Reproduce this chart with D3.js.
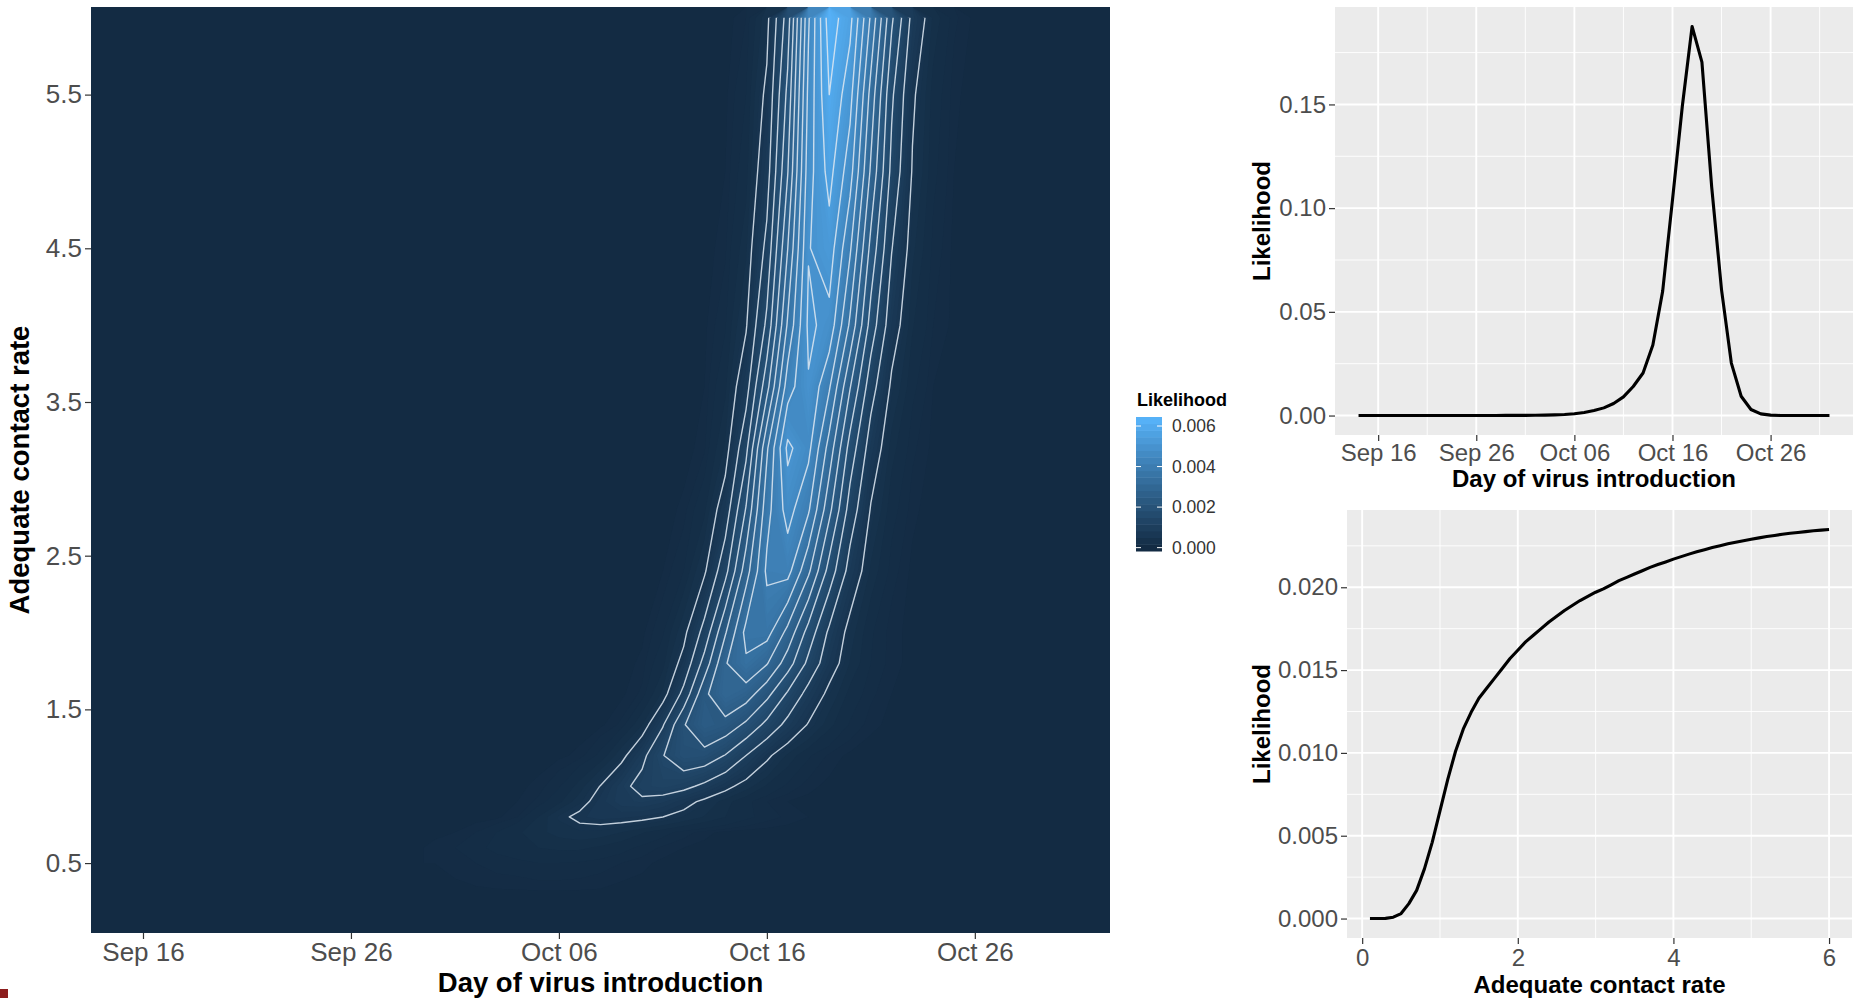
<!DOCTYPE html>
<html>
<head>
<meta charset="utf-8">
<script src="https://cdn.jsdelivr.net/npm/d3@7"></script>
<style>
  html, body { margin: 0; padding: 0; background: #fff; }
  svg { display: block; font-family: "Liberation Sans", Arial, Helvetica, sans-serif; }
</style>
</head>
<body>
<svg id="chart" width="1858" height="998"></svg>
<script>
// ---------- values ----------

// heat map: one column per day from gridStart, one row per contact rate
const gridStart = "2019-09-30";
const gridRates = [0.3, 0.5, 0.6, 0.7, 0.8, 0.9, 1.0, 1.2, 1.4, 1.6, 1.8, 2.0, 2.4, 2.8, 3.2, 3.6, 4.0, 4.5, 5.0, 5.5, 6.0];
// likelihood x 1e-5 (days Sep 30 .. Oct 27)
const gridRows = [
  [0,0,1,1,1,1,1,1,1,0,0,0,0,0,0,0,0,0,0,0,0,0,0,0,0,0,0,0],
  [2,4,5,7,8,10,10,9,7,5,3,1,1,0,0,0,0,0,0,0,0,0,0,0,0,0,0,0],
  [3,5,8,12,16,20,22,22,18,13,8,4,2,1,0,0,0,0,0,0,0,0,0,0,0,0,0,0],
  [1,2,5,10,18,27,34,38,36,30,21,13,7,3,1,0,0,0,0,0,0,0,0,0,0,0,0,0],
  [0,0,0,1,5,20,42,58,64,62,58,50,39,29,20,12,7,4,2,1,0,0,0,0,0,0,0,0],
  [0,0,0,0,2,6,17,37,65,87,92,82,63,42,24,12,5,2,1,0,0,0,0,0,0,0,0,0],
  [0,0,0,0,1,3,9,24,51,87,116,125,113,89,61,36,18,8,3,1,0,0,0,0,0,0,0,0],
  [0,0,0,0,0,0,1,3,12,38,87,148,187,182,148,100,57,27,11,4,1,0,0,0,0,0,0,0],
  [0,0,0,0,0,0,0,0,1,6,29,96,196,248,232,190,136,85,47,23,9,3,1,0,0,0,0,0],
  [0,0,0,0,0,0,0,0,0,1,6,33,114,238,300,275,215,143,82,40,16,6,2,0,0,0,0,0],
  [0,0,0,0,0,0,0,0,0,0,3,16,63,169,296,343,304,224,137,69,29,10,3,1,0,0,0,0],
  [0,0,0,0,0,0,0,0,0,0,1,9,39,117,245,365,368,285,180,90,36,11,3,1,0,0,0,0],
  [0,0,0,0,0,0,0,0,0,0,0,2,10,44,133,278,410,418,310,180,80,27,7,1,0,0,0,0],
  [0,0,0,0,0,0,0,0,0,0,0,0,3,17,72,204,382,470,407,264,128,47,13,3,0,0,0,0],
  [0,0,0,0,0,0,0,0,0,0,0,0,0,4,32,136,342,512,464,330,180,76,24,6,1,0,0,0],
  [0,0,0,0,0,0,0,0,0,0,0,0,0,2,17,79,232,426,496,406,253,120,43,12,2,0,0,0],
  [0,0,0,0,0,0,0,0,0,0,0,0,0,1,9,46,161,357,510,484,341,179,70,21,5,1,0,0],
  [0,0,0,0,0,0,0,0,0,0,0,0,0,0,4,27,113,299,497,528,407,235,102,33,8,1,0,0],
  [0,0,0,0,0,0,0,0,0,0,0,0,0,0,2,15,78,247,478,568,471,292,136,47,12,2,0,0],
  [0,0,0,0,0,0,0,0,0,0,0,0,0,0,1,10,58,213,463,600,518,332,159,56,15,3,0,0],
  [0,0,0,0,0,0,0,0,0,0,0,0,0,0,0,5,38,174,443,628,566,392,209,85,27,6,1,0]
];
const contourLevels = [0.0005, 0.001, 0.0015, 0.002, 0.0025, 0.003, 0.0035, 0.004, 0.0045, 0.005, 0.0055, 0.006];

// marginal over day of introduction, Sep 14 .. Nov 1
const dayMarginStart = "2019-09-14";
const dayMargin = [
  0,0,0,0,0,0,0,0,0,0,0,0,
  0.00002,0.00003,0.00004,0.00006,0.00008,
  0.0001,0.00015,0.0002,0.0003,0.0005,0.0009,0.0015,0.0024,0.0037,0.0058,
  0.009,0.014,0.0205,0.034,0.06,0.104,0.149,0.1876,0.1704,0.11,
  0.0606,0.0253,0.0093,0.0029,0.0008,0.0002,0.00005,0,0,0,0,0
];

// marginal over adequate contact rate, 0.1 .. 6.0 by 0.1
const rateMargin = [
  0,0,0.00001,0.00008,0.0003,0.0009,0.0017,0.003,0.0046,0.0065,
  0.0084,0.0101,0.01145,0.01245,0.0133,0.0139,0.0145,0.0151,0.0157,0.0162,
  0.0167,0.0171,0.0175,0.0179,0.01825,0.0186,0.0189,0.0192,0.01945,0.0197,
  0.0199,0.02015,0.0204,0.0206,0.0208,0.021,0.0212,0.02137,0.02153,0.0217,
  0.02185,0.022,0.02214,0.02227,0.0224,0.02251,0.02262,0.02272,0.02281,0.0229,
  0.02298,0.02306,0.02313,0.0232,0.02326,0.02331,0.02336,0.02341,0.02345,0.02349
];

const dayTicks = ["2019-09-16", "2019-09-26", "2019-10-06", "2019-10-16", "2019-10-26"];
const mainRateTicks = [0.5, 1.5, 2.5, 3.5, 4.5, 5.5];
const legendTicks = [0, 0.002, 0.004, 0.006];
const dayLikTicks = [0, 0.05, 0.10, 0.15];
const rateTicks = [0, 2, 4, 6];
const rateLikTicks = [0, 0.005, 0.010, 0.015, 0.020];

// ---------- helpers ----------
const parse = d3.utcParse("%Y-%m-%d");
const fmtDay = d3.utcFormat("%b %d");
const svg = d3.select("#chart");
const tickGrey = "#4D4D4D";
const expand = ([a, b], f = 0.05) => [+a - (b - a) * f, +b + (b - a) * f];

/** style a d3 axis the ggplot way */
const styleAxis = (g, size) => {
    g.select(".domain").remove();
    g.selectAll(".tick line").attr("stroke", "#333").attr("stroke-width", 1.2);
    g.selectAll(".tick text")
        .attr("fill", tickGrey)
        .style("font-size", size + "px")
        .style("font-family", "'Liberation Sans', Arial, sans-serif");
};

const title = (x, y, text, size, rotate) => svg.append("text")
    .attr("transform", rotate ? `translate(${x},${y}) rotate(-90)` : `translate(${x},${y})`)
    .attr("text-anchor", "middle")
    .style("font-weight", "bold")
    .style("font-size", size + "px")
    .attr("fill", "#000")
    .text(text);

const defs = svg.append("defs");

// ---------- main heat map ----------
const M = {left: 91, right: 1110, top: 7, bottom: 933};
const days = dayMargin.map((_, i) => d3.utcDay.offset(parse(dayMarginStart), i));
const xMain = d3.scaleUtc()
    .domain([d3.utcHour.offset(days[0], -12), d3.utcHour.offset(days[days.length - 1], 12)])
    .range([M.left, M.right]);
const yMain = d3.scaleLinear().domain([0.045, 6.07]).range([M.bottom, M.top]);

const grid = gridRows.map(r => r.map(v => v * 1e-5));
const nCols = grid[0].length, nRows = grid.length;
const flat = grid.flat();
const maxL = d3.max(flat);
const color = d3.scaleLinear().domain([0, maxL])
    .range(["#132B43", "#56B1F7"]).interpolate(d3.interpolateLab);

// grid space -> data space (cell centres sit at i + 0.5)
const day0 = parse(gridStart);
const gxPix = d3.scaleLinear().domain([0, nCols])
    .range([xMain(d3.utcHour.offset(day0, -12)), xMain(d3.utcHour.offset(day0, 24 * nCols - 12))]);
const gyRate = d3.scaleLinear()
    .domain([0, ...d3.range(nRows).map(i => i + 0.5), nRows])
    .range([yMain.domain()[0], ...gridRates, yMain.domain()[1]]);
const path = d3.geoPath(d3.geoTransform({
    point(px, py) { this.stream.point(gxPix(px), yMain(gyRate(py))); }
}));

defs.append("clipPath").attr("id", "mainClip").append("rect")
    .attr("x", M.left).attr("y", M.top)
    .attr("width", M.right - M.left).attr("height", M.bottom - M.top);
defs.append("clipPath").attr("id", "lineClip").append("rect")
    .attr("x", M.left).attr("y", yMain(gridRates[nRows - 1]))
    .attr("width", M.right - M.left).attr("height", M.bottom - yMain(gridRates[nRows - 1]));

const heat = svg.append("g").attr("clip-path", "url(#mainClip)");
heat.append("rect")
    .attr("x", M.left).attr("y", M.top)
    .attr("width", M.right - M.left).attr("height", M.bottom - M.top)
    .attr("fill", color(0));

const fillLevels = [0.00002, 0.00005, ...d3.range(1, 63).map(i => i * 1e-4)];
const bands = d3.contours().size([nCols, nRows]).thresholds(fillLevels)(flat);
heat.append("g").selectAll("path")
    .data(bands)
    .join("path")
    .attr("d", path)
    .attr("fill-rule", "evenodd")
    .attr("fill", d => color(Math.min(maxL, d.value + 0.00005)));

const lines = d3.contours().size([nCols, nRows]).thresholds(contourLevels)(flat);
svg.append("g").attr("clip-path", "url(#lineClip)")
    .selectAll("path")
    .data(lines)
    .join("path")
    .attr("d", path)
    .attr("fill", "none")
    .attr("stroke", "#dce6f0")
    .attr("stroke-opacity", 0.88)
    .attr("stroke-width", 1.4)
    .attr("stroke-linejoin", "round");

svg.append("g").attr("transform", `translate(0,${M.bottom})`)
    .call(d3.axisBottom(xMain).tickValues(dayTicks.map(parse)).tickFormat(fmtDay)
        .tickSize(6).tickPadding(4))
    .call(styleAxis, 26);
svg.append("g").attr("transform", `translate(${M.left},0)`)
    .call(d3.axisLeft(yMain).tickValues(mainRateTicks).tickFormat(d3.format(".1f"))
        .tickSize(6).tickPadding(3))
    .call(styleAxis, 26);
title((M.left + M.right) / 2, 992, "Day of virus introduction", 27.5);
title(29, (M.top + M.bottom) / 2, "Adequate contact rate", 27.5, true);

// ---------- colour bar legend ----------
const CB = {x: 1136, y: 417, w: 26, h: 134, nbin: 20};
const binH = CB.h / CB.nbin;
const binVals = d3.range(CB.nbin).map(i => maxL * i / (CB.nbin - 1));
const cbScale = d3.scaleLinear().domain([0, maxL])
    .range([CB.y + CB.h - binH / 2, CB.y + binH / 2]);
const legend = svg.append("g");
legend.selectAll("rect")
    .data(binVals)
    .join("rect")
    .attr("x", CB.x).attr("width", CB.w)
    .attr("y", (d, i) => CB.y + CB.h - (i + 1) * binH)
    .attr("height", binH + 0.5)
    .attr("fill", d => color(d));
legendTicks.forEach(t => {
    [[CB.x, CB.x + 5], [CB.x + CB.w - 5, CB.x + CB.w]].forEach(([a, b]) =>
        legend.append("line")
            .attr("x1", a).attr("x2", b)
            .attr("y1", cbScale(t)).attr("y2", cbScale(t))
            .attr("stroke", "#fff").attr("stroke-width", 1));
    legend.append("text")
        .attr("x", 1172).attr("y", cbScale(t)).attr("dy", "0.36em")
        .style("font-size", "17.5px").attr("fill", "#333")
        .text(d3.format(".3f")(t));
});
legend.append("text")
    .attr("x", 1137).attr("y", 406)
    .style("font-size", "18px").style("font-weight", "bold")
    .text("Likelihood");

// ---------- marginal line panels ----------
const drawPanel = ({box, x, y, xMajor, xMinor, yMajor, yMinor, xFmt, yFmt, points, xTitle, yTitle, xLabelPad}) => {
    const g = svg.append("g");
    g.append("rect")
        .attr("x", box.left).attr("y", box.top)
        .attr("width", box.right - box.left).attr("height", box.bottom - box.top)
        .attr("fill", "#EBEBEB");
    const grid = g.append("g").attr("stroke", "#fff");
    xMinor.forEach(v => grid.append("line").attr("x1", x(v)).attr("x2", x(v))
        .attr("y1", box.top).attr("y2", box.bottom).attr("stroke-width", 0.9));
    yMinor.forEach(v => grid.append("line").attr("y1", y(v)).attr("y2", y(v))
        .attr("x1", box.left).attr("x2", box.right).attr("stroke-width", 0.9));
    xMajor.forEach(v => grid.append("line").attr("x1", x(v)).attr("x2", x(v))
        .attr("y1", box.top).attr("y2", box.bottom).attr("stroke-width", 1.9));
    yMajor.forEach(v => grid.append("line").attr("y1", y(v)).attr("y2", y(v))
        .attr("x1", box.left).attr("x2", box.right).attr("stroke-width", 1.9));

    g.append("path")
        .datum(points)
        .attr("fill", "none")
        .attr("stroke", "#000")
        .attr("stroke-width", 3.1)
        .attr("stroke-linejoin", "round")
        .attr("d", d3.line().x(d => x(d[0])).y(d => y(d[1])));

    g.append("g").attr("transform", `translate(0,${box.bottom})`)
        .call(d3.axisBottom(x).tickValues(xMajor).tickFormat(xFmt).tickSize(6).tickPadding(xLabelPad))
        .call(styleAxis, 24);
    g.append("g").attr("transform", `translate(${box.left},0)`)
        .call(d3.axisLeft(y).tickValues(yMajor).tickFormat(yFmt).tickSize(6).tickPadding(3))
        .call(styleAxis, 24);
    title((box.left + box.right) / 2, xTitle.y, xTitle.text, 24);
    title(1270, (box.top + box.bottom) / 2, yTitle, 24, true);
};

// midpoints between major breaks (+ one step beyond each end) kept inside the domain
const minorBreaks = (major, domain) => {
    const step = major[1] - major[0];
    const all = [+major[0] - step / 2, ...major.map(v => +v + step / 2)];
    return all.filter(v => v > domain[0] && v < domain[1]);
};

// top right: likelihood by day
const TR = {left: 1335, right: 1853, top: 7, bottom: 435};
const xTR = d3.scaleUtc().domain(expand([days[0], days[days.length - 1]])).range([TR.left, TR.right]);
const yTR = d3.scaleLinear().domain(expand(d3.extent(dayMargin))).range([TR.bottom, TR.top]);
const dayMajor = dayTicks.map(parse);
drawPanel({
    box: TR, x: xTR, y: yTR,
    xMajor: dayMajor,
    xMinor: minorBreaks(dayMajor.map(d => +d), xTR.domain().map(d => +d)),
    yMajor: dayLikTicks,
    yMinor: minorBreaks(dayLikTicks, yTR.domain()),
    xFmt: fmtDay, yFmt: d3.format(".2f"),
    points: days.map((d, i) => [d, dayMargin[i]]),
    xTitle: {text: "Day of virus introduction", y: 487},
    yTitle: "Likelihood",
    xLabelPad: 3
});

// bottom right: likelihood by contact rate
const BR = {left: 1347, right: 1852, top: 510, bottom: 938};
const rates = rateMargin.map((_, i) => (i + 1) / 10);
const xBR = d3.scaleLinear().domain(expand(d3.extent(rates))).range([BR.left, BR.right]);
const yBR = d3.scaleLinear().domain(expand(d3.extent(rateMargin))).range([BR.bottom, BR.top]);
drawPanel({
    box: BR, x: xBR, y: yBR,
    xMajor: rateTicks,
    xMinor: minorBreaks(rateTicks, xBR.domain()),
    yMajor: rateLikTicks,
    yMinor: minorBreaks(rateLikTicks, yBR.domain()),
    xFmt: d3.format("d"), yFmt: d3.format(".3f"),
    points: rates.map((r, i) => [r, rateMargin[i]]),
    xTitle: {text: "Adequate contact rate", y: 993},
    yTitle: "Likelihood",
    xLabelPad: 5
});

// small dark mark in the lower left corner of the source image
svg.append("rect").attr("x", 0).attr("y", 989).attr("width", 8).attr("height", 9).attr("fill", "#8c1d1d");
</script>
</body>
</html>
